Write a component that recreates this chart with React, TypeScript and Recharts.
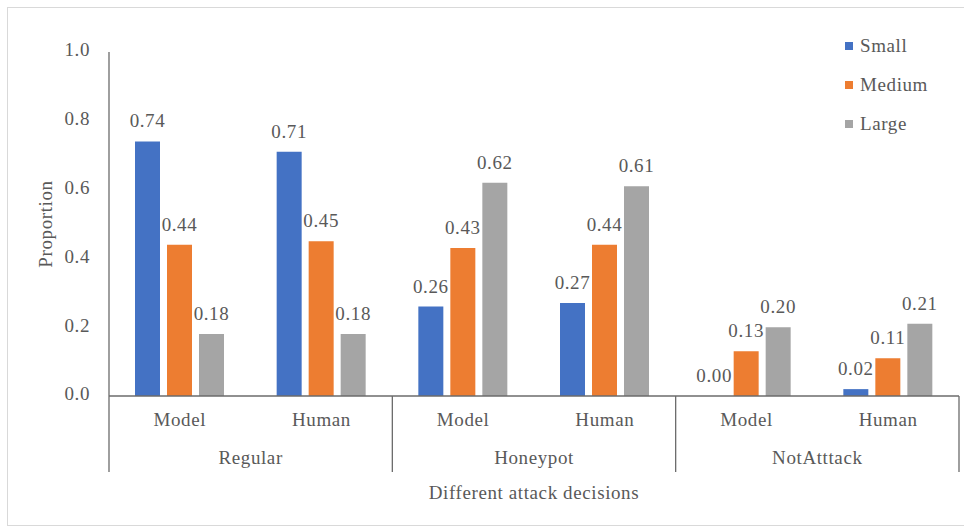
import React from "react";
import { BarChart, Bar, XAxis, YAxis, LabelList } from "recharts";

const categories = ["Model", "Human", "Model", "Human", "Model", "Human"];
const groups = ["Regular", "Regular", "Honeypot", "Honeypot", "NotAtttack", "NotAtttack"];
const small = [0.74, 0.71, 0.26, 0.27, 0.0, 0.02];
const medium = [0.44, 0.45, 0.43, 0.44, 0.13, 0.11];
const large = [0.18, 0.18, 0.62, 0.61, 0.2, 0.21];
const yTicks = [0, 0.2, 0.4, 0.6, 0.8, 1.0];

const series = [
  { key: "Small", values: small, color: "#4472C4" },
  { key: "Medium", values: medium, color: "#ED7D31" },
  { key: "Large", values: large, color: "#A5A5A5" },
];

const FONT = '"Liberation Serif", "Times New Roman", serif';
const TEXT = "#595959";
const AXIS = "#6b6b6b";
const textStyle = { fontFamily: FONT, fontSize: 19, letterSpacing: 0.6 };

const W = 964;
const H = 529;
const margin = { top: 52, right: 5, bottom: 43, left: 49 };
const Y_AXIS_W = 60;
const X_AXIS_H = 90;
const PLOT_LEFT = margin.left + Y_AXIS_W;
const PLOT_W = W - PLOT_LEFT - margin.right;
const PLOT_BOTTOM = H - margin.bottom - X_AXIS_H;

const data = categories.map((name, i) => ({
  name,
  group: groups[i],
  Small: small[i],
  Medium: medium[i],
  Large: large[i],
}));

// two-row category axis: sub label, group label and group separators
function GroupedTick(props: any) {
  const { x, y, payload } = props;
  const i = payload.index;
  const band = PLOT_W / categories.length;
  const first = i === 0 || groups[i - 1] !== groups[i];
  const last = i === categories.length - 1;
  let groupCenter = x;
  if (first) {
    let n = 1;
    while (groups[i + n] === groups[i]) n++;
    groupCenter = x - band / 2 + (n * band) / 2;
  }
  return (
    <g>
      <text x={x} y={y + 26} textAnchor="middle" dominantBaseline="middle" fill={TEXT} style={textStyle}>
        {payload.value}
      </text>
      {first && (
        <>
          <line x1={x - band / 2} x2={x - band / 2} y1={y} y2={y + 76} stroke={AXIS} strokeWidth={1.3} />
          <text x={groupCenter} y={y + 64} textAnchor="middle" dominantBaseline="middle" fill={TEXT} style={textStyle}>
            {groups[i]}
          </text>
        </>
      )}
      {last && (
        <line x1={x + band / 2} x2={x + band / 2} y1={y} y2={y + 76} stroke={AXIS} strokeWidth={1.3} />
      )}
    </g>
  );
}

function YTick(props: any) {
  const { x, y, payload } = props;
  return (
    <text x={x} y={y} textAnchor="end" dominantBaseline="middle" fill={TEXT} style={textStyle}>
      {Number(payload.value).toFixed(1)}
    </text>
  );
}

// value label above each bar (also drawn for zero-height bars)
function ValueLabel(props: any) {
  const { x, y, width, height, value } = props;
  const top = Math.min(y, y + (height || 0));
  return (
    <text x={x + width / 2} y={top - 14} textAnchor="middle" fill={TEXT} style={textStyle}>
      {Number(value).toFixed(2)}
    </text>
  );
}

function LegendBox() {
  return (
    <div style={{ position: "absolute", left: 845, top: 26, fontFamily: FONT, fontSize: 19, color: TEXT, letterSpacing: 0.6 }}>
      {series.map((s) => (
        <div key={s.key} style={{ display: "flex", alignItems: "center", height: 39 }}>
          <span style={{ width: 8, height: 8, background: s.color, marginRight: 7, display: "inline-block" }} />
          <span>{s.key}</span>
        </div>
      ))}
    </div>
  );
}

export default function App() {
  return (
    <div
      style={{
        position: "absolute",
        left: 0,
        top: 0,
        width: W,
        height: H,
        background: "#fff",
        overflow: "hidden",
        fontFamily: FONT,
      }}
    >
      <div
        style={{
          position: "absolute",
          left: 7,
          top: 7,
          width: 960,
          height: 517,
          border: "1px solid #d9d9d9",
        }}
      />
      <div style={{ position: "absolute", left: 0, top: 0 }}>
        <BarChart width={W} height={H} data={data} margin={margin} barGap={7}>
          <XAxis
            dataKey="name"
            height={X_AXIS_H}
            tickLine={false}
            tickSize={0}
            tickMargin={0}
            stroke={AXIS}
            strokeWidth={1.3}
            tick={<GroupedTick />}
            interval={0}
            label={{
              content: () => (
                <text
                  x={PLOT_LEFT + PLOT_W / 2}
                  y={PLOT_BOTTOM + 99}
                  textAnchor="middle"
                  dominantBaseline="middle"
                  fill={TEXT}
                  style={textStyle}
                >
                  Different attack decisions
                </text>
              ),
            }}
          />
          <YAxis
            width={Y_AXIS_W}
            domain={[0, 1]}
            ticks={yTicks}
            tickLine={false}
            tickMargin={13}
            stroke={AXIS}
            strokeWidth={1.3}
            tick={<YTick />}
            label={{
              content: () => (
                <text
                  x={48}
                  y={224}
                  transform="rotate(-90 48 224)"
                  textAnchor="middle"
                  dominantBaseline="middle"
                  fill={TEXT}
                  style={textStyle}
                >
                  Proportion
                </text>
              ),
            }}
          />
          {series.map((s) => (
            <Bar
              key={s.key}
              dataKey={s.key}
              fill={s.color}
              barSize={25}
              minPointSize={0.01}
              isAnimationActive={false}
            >
              <LabelList dataKey={s.key} content={<ValueLabel />} />
            </Bar>
          ))}
        </BarChart>
      </div>
      <LegendBox />
    </div>
  );
}
